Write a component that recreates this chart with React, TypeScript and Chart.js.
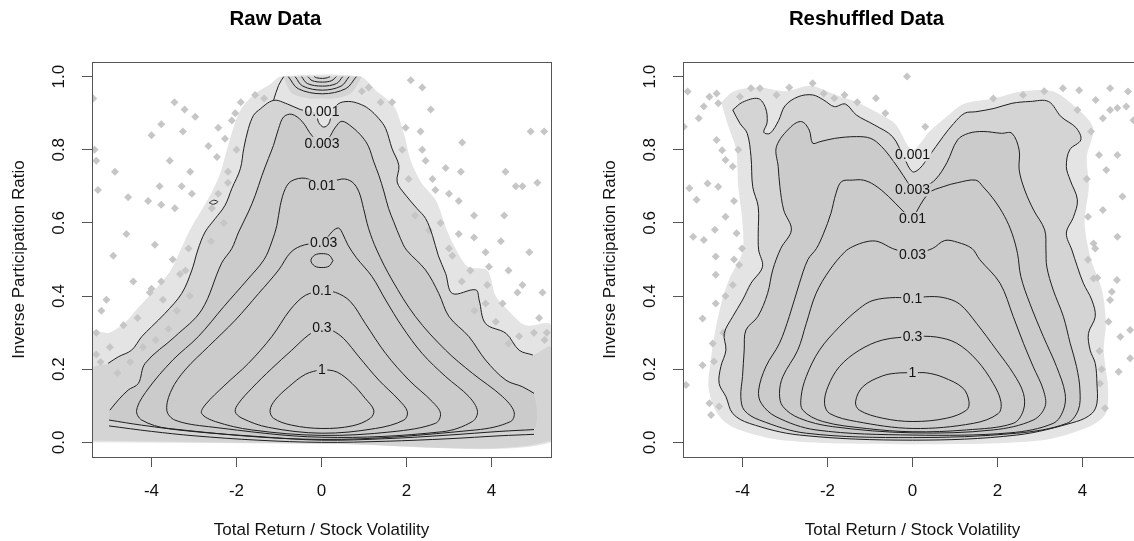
import React, { useEffect, useRef } from "react";
import { Chart, registerables } from "chart.js";

Chart.register(...registerables);

type Pt = [number, number];

const FONT = '"Liberation Sans", Arial, Helvetica, sans-serif';

// ---------- shared axis data ----------
const xTickValues = [-4, -2, 0, 2, 4];
const yTickValues = [0, 0.2, 0.4, 0.6, 0.8, 1.0];
const xLimits = [-5.4, 5.4];
const yLimits = [-0.04, 1.04];
const panelTitles = ["Raw Data", "Reshuffled Data"];
const xAxisTitle = "Total Return / Stock Volatility";
const yAxisTitle = "Inverse Participation Ratio";
const levelNames = ["0.001", "0.003", "0.01", "0.03", "0.1", "0.3", "1"];

// ---------- RAW DATA panel ----------
const rawLabelPos: Pt[] = [
  [0.01, 0.903], [0.01, 0.818], [0.01, 0.701], [0.05, 0.545], [0.01, 0.414], [0.01, 0.314], [0.01, 0.2],
];

const rawLevel1: Pt[] = [
  [0.01, 0.2], [0.37, 0.192], [0.72, 0.161], [1.03, 0.12], [1.23, 0.088], [1.15, 0.066], [0.72, 0.045],
  [0.01, 0.038], [-0.7, 0.047], [-1.13, 0.066], [-1.21, 0.088], [-1.09, 0.116], [-0.77, 0.152],
  [-0.38, 0.186], [0.01, 0.2],
];
const rawLevel03: Pt[] = [
  [0.01, 0.314], [0.25, 0.306], [0.52, 0.284], [0.88, 0.234], [1.35, 0.17], [1.82, 0.116], [2.02, 0.084],
  [1.94, 0.061], [1.27, 0.038], [0.01, 0.025], [-1.25, 0.041], [-1.87, 0.066], [-2.03, 0.084],
  [-1.95, 0.107], [-1.64, 0.148], [-1.17, 0.202], [-0.7, 0.252], [-0.3, 0.294], [0.01, 0.314],
];
const rawLevel01: Pt[] = [
  [0.01, 0.414], [0.33, 0.41], [0.68, 0.385], [1.03, 0.325], [1.51, 0.243], [2.06, 0.17], [2.61, 0.111],
  [2.8, 0.079], [2.68, 0.052], [1.66, 0.029], [0.01, 0.019], [-1.64, 0.034], [-2.5, 0.057],
  [-2.82, 0.079], [-2.74, 0.102], [-2.27, 0.157], [-1.72, 0.216], [-1.17, 0.289], [-0.74, 0.362],
  [-0.38, 0.402], [0.01, 0.414],
];
const rawLevel01Island: Pt[] = [
  [0.27, 0.497], [0.18, 0.512], [0.01, 0.516], [-0.16, 0.512], [-0.25, 0.497], [-0.16, 0.482],
  [0.01, 0.478], [0.18, 0.482], [0.27, 0.497],
];
const rawLevel003: Pt[] = [
  [0.05, 0.545], [0.25, 0.576], [0.4, 0.586], [0.5, 0.57], [0.62, 0.54], [0.82, 0.505], [1.19, 0.453],
  [1.51, 0.389], [1.9, 0.316], [2.37, 0.243], [2.92, 0.18], [3.47, 0.125], [3.67, 0.085], [3.55, 0.057],
  [2.84, 0.029], [0.01, 0.014], [-2.66, 0.043], [-3.45, 0.061], [-3.64, 0.088], [-3.53, 0.143],
  [-3.21, 0.198], [-2.66, 0.262], [-2.03, 0.334], [-1.48, 0.407], [-1.01, 0.471], [-0.72, 0.52],
  [-0.4, 0.54], [0.05, 0.545],
];
const rawLevel001: Pt[] = [
  [0.01, 0.701], [0.48, 0.72], [0.72, 0.712], [0.88, 0.685], [0.99, 0.639], [1.11, 0.584], [1.3, 0.526],
  [1.66, 0.444], [2.21, 0.344], [2.92, 0.252], [3.55, 0.189], [4.26, 0.125], [4.53, 0.084], [4.45, 0.057],
  [3.63, 0.034], [0.01, 0.008], [-3.6, 0.038], [-4.23, 0.061], [-4.35, 0.088], [-4.1, 0.143],
  [-3.5, 0.225], [-2.9, 0.289], [-2.3, 0.371], [-1.75, 0.444], [-1.35, 0.5], [-1.17, 0.548],
  [-1.05, 0.593], [-0.97, 0.648], [-0.85, 0.694], [-0.7, 0.715], [-0.38, 0.722], [0.01, 0.701],
];
const rawLevel0003: Pt[] = [
  [-4.98, 0.088], [-4.78, 0.116], [-4.55, 0.143], [-4.31, 0.161], [-4.15, 0.216], [-3.45, 0.289],
  [-2.82, 0.362], [-2.35, 0.49], [-2.11, 0.53], [-1.95, 0.575], [-1.72, 0.63], [-1.56, 0.675],
  [-1.4, 0.73], [-1.25, 0.776], [-1.13, 0.812], [-1.01, 0.858], [-0.89, 0.89], [-0.7, 0.897],
  [-0.46, 0.878], [-0.22, 0.838], [0.01, 0.818], [0.17, 0.832], [0.33, 0.862], [0.48, 0.878],
  [0.72, 0.862], [0.96, 0.835], [1.11, 0.808], [1.23, 0.767], [1.35, 0.73], [1.47, 0.685],
  [1.58, 0.639], [1.7, 0.603], [1.86, 0.557], [2.0, 0.526], [2.45, 0.471], [2.76, 0.407], [3.0, 0.344],
  [3.47, 0.289], [3.86, 0.225], [4.34, 0.17], [4.73, 0.152], [5.0, 0.134],
];
const rawBottom0003: Pt[] = [
  [-5.0, 0.061], [-4.23, 0.047], [-3.05, 0.03], [-1.5, 0.016], [0.0, 0.006], [1.5, 0.01], [3.0, 0.02],
  [4.2, 0.03], [5.0, 0.035],
];
const rawLevel0001: Pt[] = [
  [-5.02, 0.216], [-4.78, 0.234], [-4.47, 0.252], [-4.23, 0.289], [-4.0, 0.316], [-3.68, 0.353],
  [-3.29, 0.407], [-3.05, 0.471], [-2.91, 0.526], [-2.74, 0.575], [-2.5, 0.612], [-2.27, 0.648],
  [-2.11, 0.694], [-1.91, 0.748], [-1.83, 0.803], [-1.72, 0.858], [-1.6, 0.894], [-1.48, 0.908],
  [-1.13, 0.935], [-0.8, 0.925], [-0.5, 0.91], [-0.3, 0.905], [-0.13, 0.9], [-0.07, 0.875],
  [0.05, 0.862], [0.17, 0.871], [0.25, 0.9], [0.4, 0.926], [0.64, 0.932], [0.88, 0.926], [1.11, 0.912],
  [1.35, 0.885], [1.51, 0.858], [1.66, 0.803], [1.82, 0.757], [1.78, 0.712], [1.98, 0.676],
  [2.25, 0.639], [2.45, 0.612], [2.61, 0.566], [2.75, 0.51], [2.92, 0.462], [3.08, 0.407],
  [3.63, 0.417], [3.71, 0.389], [3.86, 0.325], [4.34, 0.298], [4.65, 0.252], [4.97, 0.239],
];
const rawSpur0001: Pt[] = [[-1.13, 0.935], [-1.01, 0.976], [-0.89, 1.0]];
const rawIsland0001: Pt[] = [[-2.64, 0.655], [-2.54, 0.662], [-2.44, 0.658], [-2.54, 0.651], [-2.64, 0.655]];
const rawBottom0001: Pt[] = [
  [-5.0, 0.045], [-4.0, 0.03], [-3.0, 0.018], [-1.5, 0.006], [0.0, 0.0], [1.5, 0.003], [3.0, 0.01],
  [4.2, 0.018], [5.0, 0.022],
];
const rawTopArc1: Pt[] = [[-0.78, 1.0], [-0.55, 0.967], [0.02, 0.953], [0.57, 0.967], [0.82, 1.0]];
const rawTopArc2: Pt[] = [[-0.62, 1.0], [-0.44, 0.974], [0.02, 0.963], [0.46, 0.974], [0.65, 1.0]];
const rawTopArc3: Pt[] = [[-0.47, 1.0], [-0.33, 0.981], [0.02, 0.974], [0.35, 0.981], [0.5, 1.0]];
const rawTopArc4: Pt[] = [[-0.32, 1.0], [-0.22, 0.989], [0.02, 0.985], [0.24, 0.989], [0.35, 1.0]];
const rawTopArc5: Pt[] = [[-0.17, 1.0], [-0.12, 0.997], [0.02, 0.995], [0.14, 0.997], [0.2, 1.0]];
const rawTopCluster: Pt[] = [
  [-0.9, 1.0], [-0.7, 0.955], [-0.3, 0.94], [0.0, 0.94], [0.3, 0.94], [0.7, 0.955], [0.95, 1.0],
];
const rawCloudLeftEdge: Pt[] = [[-5.4, 0.005], [-5.4, 0.2]];
const rawCloudRightEdge: Pt[] = [[5.4, 0.26], [5.4, 0.005], [0.0, -0.004]];
// sparser halo of points just outside the outer contour
const rawFringe: Pt[] = [
  [-5.4, 0.0], [-5.4, 0.3], [-5.0, 0.3], [-4.6, 0.33], [-4.3, 0.37], [-3.9, 0.42], [-3.55, 0.47],
  [-3.3, 0.53], [-3.1, 0.58], [-2.85, 0.63], [-2.6, 0.68], [-2.4, 0.73], [-2.25, 0.79], [-2.1, 0.85],
  [-1.9, 0.91], [-1.6, 0.95], [-1.2, 0.98], [-0.95, 1.0], [0.9, 1.0], [1.3, 0.96], [1.7, 0.92],
  [1.95, 0.84], [2.1, 0.77], [2.35, 0.71], [2.7, 0.66], [2.95, 0.58], [3.2, 0.52], [3.45, 0.48],
  [3.9, 0.47], [4.1, 0.4], [4.4, 0.36], [4.8, 0.32], [5.4, 0.32], [5.4, 0.0], [0.0, -0.004],
];

const rawScatter: Pt[] = [
  [-5.37, 0.94], [-5.34, 0.8], [-5.3, 0.77], [-5.26, 0.69], [-4.86, 0.74], [-4.55, 0.67], [-4.08, 0.66],
  [-3.81, 0.7], [-3.77, 0.65], [-4.0, 0.84], [-3.77, 0.87], [-3.46, 0.93], [-3.22, 0.91], [-3.26, 0.85],
  [-2.97, 0.89], [-3.57, 0.77], [-3.09, 0.74], [-3.29, 0.7], [-3.05, 0.68], [-3.45, 0.64], [-4.59, 0.57],
  [-3.92, 0.54], [-3.13, 0.53], [-2.58, 0.64], [-2.43, 0.68], [-2.66, 0.81], [-2.46, 0.78], [-2.43, 0.86],
  [-2.11, 0.88], [-2.27, 0.83], [-2.03, 0.9], [-1.56, 0.95], [-2.2, 0.74], [-2.3, 0.6], [-2.0, 0.8],
  [-1.35, 0.94], [-1.9, 0.93], [-2.6, 0.55], [-2.2, 0.71],
  [1.11, 0.97], [1.39, 0.93], [1.66, 0.93], [2.1, 0.99], [2.37, 0.97], [2.57, 0.91], [1.98, 0.86],
  [2.33, 0.85], [2.37, 0.8], [3.31, 0.82], [4.33, 0.74], [4.57, 0.7], [4.73, 0.7], [5.08, 0.71],
  [4.92, 0.85], [5.24, 0.85], [3.28, 0.74], [2.92, 0.75], [2.45, 0.77], [2.61, 0.72], [2.68, 0.69],
  [3.0, 0.68], [3.23, 0.66], [3.59, 0.62], [4.3, 0.62], [2.53, 0.58], [3.23, 0.57], [3.59, 0.56],
  [4.22, 0.55], [3.0, 0.53], [2.05, 0.72], [2.2, 0.62], [1.9, 0.8], [2.8, 0.6], [0.95, 0.96],
  [-4.9, 0.51], [-4.43, 0.44], [-4.0, 0.42], [-3.77, 0.44], [-3.33, 0.46], [-5.06, 0.39], [-4.66, 0.32],
  [-5.18, 0.36], [-4.33, 0.34], [-4.04, 0.41], [-3.73, 0.39], [-4.98, 0.26], [-5.3, 0.3], [-4.5, 0.22],
  [-4.2, 0.26], [-3.9, 0.28], [-3.6, 0.31], [-3.4, 0.36], [-3.1, 0.4], [-3.5, 0.5], [-3.2, 0.47],
  [-5.2, 0.22], [-4.8, 0.19], [-5.3, 0.24],
  [3.08, 0.51], [3.86, 0.52], [3.94, 0.48], [4.61, 0.41], [4.73, 0.43], [5.2, 0.41], [3.86, 0.38],
  [4.26, 0.38], [5.12, 0.34], [4.65, 0.29], [4.89, 0.52], [4.4, 0.47], [3.5, 0.47], [4.1, 0.33],
  [4.4, 0.27], [3.6, 0.36], [5.0, 0.3], [5.25, 0.28], [3.3, 0.44], [3.9, 0.43], [5.3, 0.3],
];

// ---------- RESHUFFLED DATA panel ----------
const reshLabelPos: Pt[] = [
  [0.0, 0.786], [0.0, 0.69], [0.0, 0.612], [0.0, 0.512], [0.0, 0.392], [0.0, 0.29], [0.0, 0.19],
];

const reshLevel1: Pt[] = [
  [0.0, 0.19], [0.33, 0.19], [0.72, 0.178], [1.19, 0.148], [1.33, 0.111], [1.27, 0.088], [0.8, 0.066],
  [0.01, 0.057], [-0.7, 0.066], [-1.25, 0.088], [-1.34, 0.111], [-1.17, 0.152], [-0.7, 0.182],
  [-0.3, 0.19], [0.0, 0.19],
];
const reshLevel03: Pt[] = [
  [0.0, 0.29], [0.56, 0.288], [1.04, 0.271], [1.51, 0.225], [1.9, 0.161], [2.08, 0.111], [2.02, 0.079],
  [1.43, 0.052], [0.01, 0.038], [-1.32, 0.057], [-1.95, 0.079], [-2.07, 0.107], [-1.99, 0.152],
  [-1.72, 0.207], [-1.25, 0.252], [-0.7, 0.28], [0.0, 0.29],
];
const reshLevel01: Pt[] = [
  [0.0, 0.392], [0.3, 0.398], [0.72, 0.396], [1.11, 0.378], [1.51, 0.325], [1.98, 0.252], [2.37, 0.189],
  [2.61, 0.134], [2.61, 0.088], [2.37, 0.052], [1.27, 0.034], [0.01, 0.029], [-1.09, 0.038],
  [-2.11, 0.057], [-2.58, 0.088], [-2.62, 0.125], [-2.5, 0.18], [-2.19, 0.252], [-1.72, 0.316],
  [-1.25, 0.366], [-0.93, 0.388], [-0.4, 0.396], [0.0, 0.392],
];
const reshLevel003: Pt[] = [
  [0.0, 0.512], [0.47, 0.53], [0.76, 0.552], [1.06, 0.547], [1.4, 0.53], [1.58, 0.5], [2.06, 0.435],
  [2.37, 0.344], [2.61, 0.271], [2.84, 0.207], [3.08, 0.143], [3.12, 0.098], [2.84, 0.061],
  [1.9, 0.034], [0.01, 0.026], [-1.88, 0.043], [-2.66, 0.066], [-3.05, 0.098], [-3.13, 0.134],
  [-3.05, 0.18], [-2.7, 0.252], [-2.5, 0.325], [-2.27, 0.407], [-1.95, 0.471], [-1.6, 0.52],
  [-1.41, 0.535], [-1.07, 0.549], [-0.81, 0.549], [-0.47, 0.53], [0.0, 0.512],
];
const reshLevel001: Pt[] = [
  [0.0, 0.612], [0.38, 0.681], [0.72, 0.699], [1.06, 0.71], [1.49, 0.717], [1.66, 0.699], [1.92, 0.663],
  [2.17, 0.617], [2.34, 0.572], [2.47, 0.517], [2.55, 0.453], [2.76, 0.38], [3.08, 0.289],
  [3.39, 0.207], [3.59, 0.134], [3.55, 0.088], [3.31, 0.052], [2.29, 0.026], [0.01, 0.02],
  [-2.27, 0.034], [-3.21, 0.07], [-3.56, 0.107], [-3.62, 0.143], [-3.45, 0.207], [-3.13, 0.271],
  [-2.9, 0.344], [-2.66, 0.435], [-2.46, 0.5], [-2.26, 0.53], [-2.09, 0.572], [-1.92, 0.626],
  [-1.8, 0.681], [-1.67, 0.713], [-1.41, 0.717], [-1.16, 0.717], [-0.9, 0.704], [-0.56, 0.672],
  [-0.22, 0.632], [0.0, 0.612],
];
const reshLevel0003: Pt[] = [
  [0.0, 0.69], [0.3, 0.7], [0.55, 0.72], [0.81, 0.765], [1.06, 0.827], [1.32, 0.845], [1.66, 0.85],
  [2.09, 0.845], [2.34, 0.845], [2.51, 0.799], [2.51, 0.745], [2.64, 0.69], [2.85, 0.635], [3.11, 0.581],
  [3.14, 0.526], [3.16, 0.48], [3.31, 0.417], [3.55, 0.344], [3.71, 0.271], [3.86, 0.207], [3.94, 0.143],
  [3.9, 0.088], [3.63, 0.052], [2.45, 0.025], [0.0, 0.013], [-2.5, 0.025], [-3.6, 0.061], [-3.96, 0.088],
  [-4.04, 0.125], [-4.0, 0.18], [-3.96, 0.252], [-3.92, 0.307], [-3.64, 0.344], [-3.41, 0.407],
  [-3.29, 0.471], [-3.1, 0.53], [-2.85, 0.581], [-3.03, 0.635], [-3.12, 0.699], [-3.16, 0.754],
  [-3.2, 0.809], [-2.86, 0.863], [-2.61, 0.877], [-2.43, 0.854], [-2.35, 0.818], [-2.18, 0.822],
  [-1.84, 0.831], [-1.32, 0.836], [-0.98, 0.831], [-0.73, 0.809], [-0.47, 0.772], [-0.22, 0.73],
  [0.0, 0.69],
];
const reshLevel0001: Pt[] = [
  [-4.23, 0.909], [-4.0, 0.93], [-3.63, 0.94], [-3.46, 0.915], [-3.42, 0.875], [-3.5, 0.848],
  [-3.35, 0.845], [-3.15, 0.88], [-3.0, 0.92], [-2.69, 0.945], [-2.35, 0.95], [-2.09, 0.936],
  [-1.84, 0.918], [-1.58, 0.925], [-1.32, 0.895], [-0.9, 0.868], [-0.47, 0.836], [-0.21, 0.781],
  [0.0, 0.74], [0.17, 0.749], [0.38, 0.781], [0.72, 0.836], [0.97, 0.872], [1.23, 0.9], [1.49, 0.904],
  [1.92, 0.913], [2.34, 0.927], [2.77, 0.932], [3.2, 0.932], [3.5, 0.89], [3.85, 0.86], [3.96, 0.827],
  [3.7, 0.8], [3.62, 0.754], [3.71, 0.717], [3.88, 0.663], [3.79, 0.617], [3.62, 0.572], [3.75, 0.526],
  [3.88, 0.48], [4.02, 0.435], [4.22, 0.389], [4.3, 0.344], [4.14, 0.298], [4.18, 0.252], [4.3, 0.216],
  [4.34, 0.161], [4.34, 0.107], [4.22, 0.079], [3.86, 0.057], [2.45, 0.02], [0.0, 0.006],
  [-2.66, 0.02], [-3.84, 0.052], [-4.23, 0.079], [-4.39, 0.125], [-4.55, 0.161], [-4.51, 0.207],
  [-4.39, 0.252], [-4.43, 0.298], [-4.23, 0.344], [-4.0, 0.389], [-3.8, 0.435], [-3.53, 0.48],
  [-3.62, 0.526], [-3.63, 0.572], [-3.63, 0.644], [-3.76, 0.699], [-3.8, 0.781], [-3.89, 0.845],
  [-4.06, 0.872], [-4.23, 0.909],
];
const reshFringe: Pt[] = [
  [-4.5, 0.93], [-4.2, 0.96], [-3.6, 0.97], [-3.0, 0.96], [-2.4, 0.975], [-1.8, 0.95], [-1.3, 0.93],
  [-0.8, 0.9], [-0.4, 0.87], [0.0, 0.8], [0.4, 0.85], [0.8, 0.89], [1.2, 0.925], [1.9, 0.94],
  [2.6, 0.96], [3.3, 0.96], [3.8, 0.92], [4.25, 0.86], [4.1, 0.78], [4.15, 0.7], [4.05, 0.6],
  [4.2, 0.5], [4.45, 0.42], [4.55, 0.33], [4.5, 0.25], [4.6, 0.15], [4.55, 0.08], [4.2, 0.045],
  [3.0, 0.005], [0.0, -0.005], [-3.0, 0.005], [-4.2, 0.04], [-4.6, 0.08], [-4.8, 0.15], [-4.75, 0.22],
  [-4.65, 0.3], [-4.5, 0.38], [-4.3, 0.45], [-4.0, 0.52], [-4.0, 0.6], [-4.1, 0.7], [-4.15, 0.8],
  [-4.35, 0.87], [-4.5, 0.93],
];

const reshScatter: Pt[] = [
  [-5.29, 0.959], [-4.78, 0.945], [-4.61, 0.954], [-4.91, 0.918], [-5.03, 0.886], [-4.57, 0.927],
  [-5.38, 0.863], [-4.61, 0.827], [-4.48, 0.799], [-4.4, 0.772], [-4.23, 0.754], [-4.57, 0.699],
  [-4.82, 0.708], [-5.25, 0.695], [-5.08, 0.663], [-4.65, 0.581], [-5.16, 0.562], [-4.91, 0.553],
  [-4.4, 0.617], [-4.14, 0.572], [-4.01, 0.53], [-4.06, 0.945], [-3.8, 0.968], [-3.59, 0.968],
  [-2.35, 0.982], [-2.09, 0.954], [-1.84, 0.941], [-0.86, 0.941], [-0.64, 0.9], [-0.13, 1.0],
  [0.3, 0.863], [-1.3, 0.93], [-3.2, 0.95], [-2.9, 0.97], [-1.6, 0.95], [-4.2, 0.66], [-4.1, 0.8],
  [3.54, 0.968], [3.92, 0.963], [4.65, 0.968], [5.07, 0.959], [4.31, 0.936], [3.88, 0.909],
  [4.65, 0.909], [4.82, 0.914], [5.03, 0.918], [5.2, 0.881], [4.48, 0.886], [4.39, 0.786],
  [4.82, 0.786], [4.56, 0.745], [4.94, 0.672], [4.48, 0.635], [4.13, 0.617], [4.82, 0.562],
  [4.26, 0.544], [4.13, 0.499], [3.1, 0.96], [2.6, 0.95], [1.9, 0.94], [4.1, 0.72], [4.2, 0.85],
  [-4.63, 0.508], [-4.63, 0.458], [-4.08, 0.485], [-4.23, 0.43], [-4.63, 0.38], [-4.94, 0.339],
  [-4.94, 0.211], [-4.67, 0.221], [-5.33, 0.157], [-4.78, 0.107], [-4.74, 0.075], [-4.55, 0.098],
  [-4.45, 0.3], [-4.7, 0.27], [-4.4, 0.4], [-4.2, 0.5],
  [4.81, 0.444], [4.26, 0.448], [4.69, 0.412], [4.65, 0.389], [4.61, 0.33], [4.89, 0.289],
  [5.12, 0.307], [5.12, 0.23], [4.85, 0.193], [4.41, 0.161], [4.53, 0.093], [4.4, 0.25], [4.45, 0.2],
  [4.35, 0.45], [4.3, 0.53],
];

// ---------- chart helpers ----------
const toXY = (a: Pt[]) => a.map(([x, y]) => ({ x, y }));

function fillSet(a: Pt[], color: string, order: number) {
  return {
    type: "line",
    data: toXY(a),
    fill: "shape",
    backgroundColor: color,
    borderColor: "rgba(0,0,0,0)",
    borderWidth: 0,
    pointRadius: 0,
    tension: 0.3,
    order,
  };
}
function lineSet(a: Pt[]) {
  return {
    type: "line",
    data: toXY(a),
    fill: false,
    borderColor: "#1f1f1f",
    borderWidth: 1,
    pointRadius: 0,
    tension: 0.35,
    order: 1,
    isContour: true,
  };
}
function pointSet(a: Pt[]) {
  return {
    type: "scatter",
    data: toXY(a),
    pointStyle: "rectRot",
    pointRadius: 4,
    backgroundColor: "#c6c6c6",
    borderWidth: 0,
    order: 3,
  };
}

type Spec = {
  title: string;
  datasets: any[];
  labels: { text: string; at: Pt }[];
};

const LABEL_FONT = `14px ${FONT}`;

function labelRects(chart: any, labels: { text: string; at: Pt }[]) {
  const ctx = chart.ctx;
  const xs = chart.scales.x;
  const ys = chart.scales.y;
  ctx.save();
  ctx.font = LABEL_FONT;
  const out = labels.map((l) => {
    const px = xs.getPixelForValue(l.at[0]);
    const py = ys.getPixelForValue(l.at[1]);
    const w = ctx.measureText(l.text).width + 3;
    return { px, py, x: px - w / 2, y: py - 6.5, w, h: 13, text: l.text };
  });
  ctx.restore();
  return out;
}

function makeDecor(labels: { text: string; at: Pt }[]) {
  return {
    id: "decor",
    beforeDatasetDraw(chart: any, args: any) {
      const ds = chart.data.datasets[args.index];
      if (!ds.isContour) return;
      const ctx = chart.ctx;
      const a = chart.chartArea;
      ctx.save();
      ctx.beginPath();
      ctx.rect(a.left, a.top, a.right - a.left, a.bottom - a.top);
      for (const r of labelRects(chart, labels)) ctx.rect(r.x, r.y, r.w, r.h);
      ctx.clip("evenodd");
    },
    afterDatasetDraw(chart: any, args: any) {
      const ds = chart.data.datasets[args.index];
      if (!ds.isContour) return;
      chart.ctx.restore();
    },
    afterDatasetsDraw(chart: any) {
      const ctx = chart.ctx;
      ctx.save();
      ctx.font = LABEL_FONT;
      ctx.fillStyle = "#111";
      ctx.textAlign = "center";
      ctx.textBaseline = "middle";
      for (const r of labelRects(chart, labels)) ctx.fillText(r.text, r.px, r.py + 0.5);
      ctx.restore();
    },
    afterDraw(chart: any) {
      const ctx = chart.ctx;
      const a = chart.chartArea;
      ctx.save();
      ctx.strokeStyle = "#555";
      ctx.lineWidth = 1;
      ctx.strokeRect(Math.round(a.left) + 0.5, Math.round(a.top) + 0.5, Math.round(a.right - a.left), Math.round(a.bottom - a.top));
      const ys = chart.scales.y;
      ctx.font = `17px ${FONT}`;
      ctx.fillStyle = "#111";
      ctx.textAlign = "center";
      ctx.textBaseline = "middle";
      for (const t of ys.ticks) {
        const py = ys.getPixelForValue(t.value);
        ctx.save();
        ctx.translate(a.left - 33, py);
        ctx.rotate(-Math.PI / 2);
        ctx.fillText(Number(t.value).toFixed(1), 0, 0);
        ctx.restore();
      }
      ctx.restore();
    },
  };
}

function buildConfig(spec: Spec): any {
  const gridOpts = { drawOnChartArea: false, drawTicks: true, tickLength: 10, color: "#555", lineWidth: 1 };
  return {
    type: "scatter",
    data: { datasets: spec.datasets },
    options: {
      responsive: false,
      animation: false,
      devicePixelRatio: 1,
      events: [],
      layout: { padding: { left: 0, right: 92, top: 0, bottom: 0 } },
      plugins: {
        legend: { display: false },
        tooltip: { enabled: false },
        title: {
          display: true,
          text: spec.title,
          color: "#000",
          font: { family: FONT, size: 20.4, weight: "bold" },
          padding: { top: 7, bottom: 30.5 },
        },
      },
      scales: {
        x: {
          type: "linear",
          min: xLimits[0],
          max: xLimits[1],
          afterBuildTicks: (s: any) => {
            s.ticks = xTickValues.map((v) => ({ value: v }));
          },
          afterFit: (s: any) => {
            s.height = 84;
          },
          grid: gridOpts,
          border: { display: false },
          ticks: {
            autoSkip: false,
            maxRotation: 0,
            minRotation: 0,
            padding: 14,
            color: "#111",
            font: { family: FONT, size: 17 },
            callback: (v: any) => String(v),
          },
          title: {
            display: true,
            text: xAxisTitle,
            color: "#111",
            font: { family: FONT, size: 17 },
            padding: { top: 0, bottom: 0 },
          },
        },
        y: {
          type: "linear",
          min: yLimits[0],
          max: yLimits[1],
          afterBuildTicks: (s: any) => {
            s.ticks = yTickValues.map((v) => ({ value: v }));
          },
          afterFit: (s: any) => {
            s.width = 92;
          },
          grid: gridOpts,
          border: { display: false },
          ticks: { display: false },
          title: {
            display: true,
            text: yAxisTitle,
            color: "#111",
            font: { family: FONT, size: 17 },
            padding: { top: 8.8, bottom: 0 },
          },
        },
      },
    },
    plugins: [makeDecor(spec.labels)],
  };
}

const HALO = "#e4e4e4";
const BAND = "#d4d4d4";
const CORE = "#cbcbcb";

const rawSpec: Spec = {
  title: panelTitles[0],
  labels: levelNames.map((t, i) => ({ text: t, at: rawLabelPos[i] })),
  datasets: [
    fillSet(rawFringe, HALO, 7),
    fillSet([...rawCloudLeftEdge, ...rawLevel0001, ...rawCloudRightEdge], BAND, 6),
    fillSet(rawTopCluster, BAND, 6),
    fillSet([...rawLevel0003, ...[...rawBottom0003].reverse()], CORE, 5),
    pointSet(rawScatter),
    lineSet(rawLevel1),
    lineSet(rawLevel03),
    lineSet(rawLevel01),
    lineSet(rawLevel01Island),
    lineSet(rawLevel003),
    lineSet(rawLevel001),
    lineSet(rawLevel0003),
    lineSet(rawBottom0003),
    lineSet(rawLevel0001),
    lineSet(rawSpur0001),
    lineSet(rawIsland0001),
    lineSet(rawBottom0001),
    lineSet(rawTopArc1),
    lineSet(rawTopArc2),
    lineSet(rawTopArc3),
    lineSet(rawTopArc4),
    lineSet(rawTopArc5),
  ],
};

const reshSpec: Spec = {
  title: panelTitles[1],
  labels: levelNames.map((t, i) => ({ text: t, at: reshLabelPos[i] })),
  datasets: [
    fillSet(reshFringe, HALO, 7),
    fillSet(reshLevel0001, BAND, 6),
    fillSet(reshLevel0003, CORE, 5),
    pointSet(reshScatter),
    lineSet(reshLevel1),
    lineSet(reshLevel03),
    lineSet(reshLevel01),
    lineSet(reshLevel003),
    lineSet(reshLevel001),
    lineSet(reshLevel0003),
    lineSet(reshLevel0001),
  ],
};

function Panel({ spec, left }: { spec: Spec; left: number }) {
  const ref = useRef<HTMLCanvasElement>(null);
  useEffect(() => {
    const chart = new Chart(ref.current as HTMLCanvasElement, buildConfig(spec));
    return () => chart.destroy();
  }, [spec]);
  return (
    <canvas
      ref={ref}
      width={643}
      height={541}
      style={{ position: "absolute", left, top: 0, width: 643, height: 541 }}
    />
  );
}

export default function App() {
  return (
    <div
      style={{
        position: "fixed",
        left: 0,
        top: 0,
        width: 1134,
        height: 541,
        overflow: "hidden",
        background: "#ffffff",
      }}
    >
      <Panel spec={rawSpec} left={0} />
      <Panel spec={reshSpec} left={591} />
    </div>
  );
}
